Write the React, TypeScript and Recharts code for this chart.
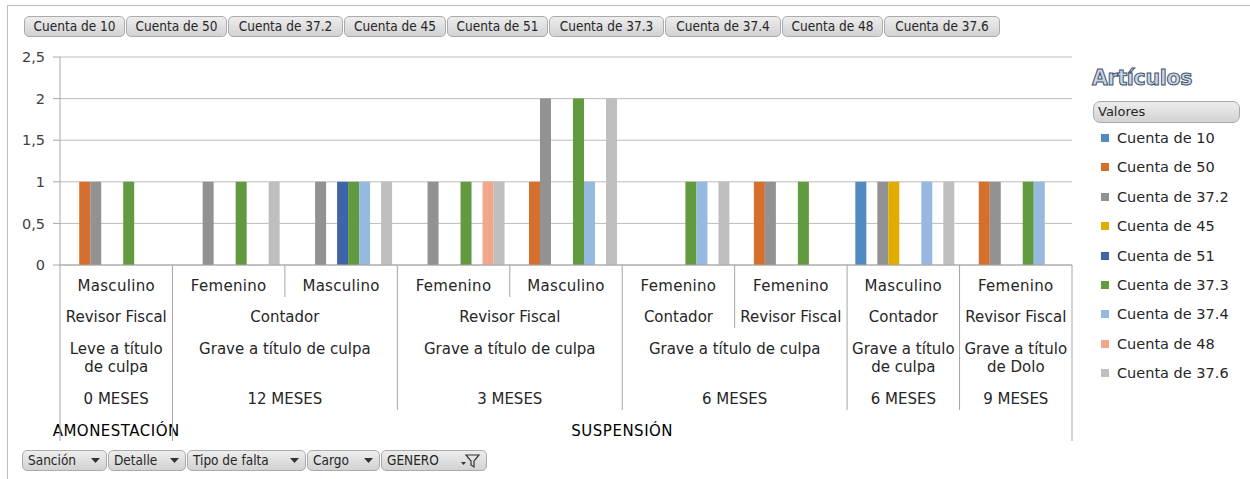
import React from "react";
import { BarChart, Bar, XAxis, YAxis, CartesianGrid } from "recharts";

// ---- Data ----
const seriesNames = [
  "Cuenta de 10",
  "Cuenta de 50",
  "Cuenta de 37.2",
  "Cuenta de 45",
  "Cuenta de 51",
  "Cuenta de 37.3",
  "Cuenta de 37.4",
  "Cuenta de 48",
  "Cuenta de 37.6",
];
const seriesColors = [
  "#4F8BC0",
  "#D4702C",
  "#929292",
  "#E2AC00",
  "#3E64AC",
  "#629A3F",
  "#97B9E0",
  "#F0A78A",
  "#BFBFBF",
];

const genero = [
  "Masculino",
  "Femenino",
  "Masculino",
  "Femenino",
  "Masculino",
  "Femenino",
  "Femenino",
  "Masculino",
  "Femenino",
];
const cargoGroups: [string, number][] = [
  ["Revisor Fiscal", 1],
  ["Contador", 2],
  ["Revisor Fiscal", 2],
  ["Contador", 1],
  ["Revisor Fiscal", 1],
  ["Contador", 1],
  ["Revisor Fiscal", 1],
];
const tipoGroups: [string, number][] = [
  ["Leve a título de culpa", 1],
  ["Grave a título de culpa", 2],
  ["Grave a título de culpa", 2],
  ["Grave a título de culpa", 2],
  ["Grave a título de culpa", 1],
  ["Grave a título de Dolo", 1],
];
const detalleGroups: [string, number][] = [
  ["0 MESES", 1],
  ["12 MESES", 2],
  ["3 MESES", 2],
  ["6 MESES", 2],
  ["6 MESES", 1],
  ["9 MESES", 1],
];
const sancionGroups: [string, number][] = [
  ["AMONESTACIÓN", 1],
  ["SUSPENSIÓN", 8],
];

const cuenta10 = [null, null, null, null, null, null, null, 1, null];
const cuenta50 = [1, null, null, null, 1, null, 1, null, 1];
const cuenta372 = [1, 1, 1, 1, 2, null, 1, 1, 1];
const cuenta45 = [null, null, null, null, null, null, null, 1, null];
const cuenta51 = [null, null, 1, null, null, null, null, null, null];
const cuenta373 = [1, 1, 1, 1, 2, 1, 1, null, 1];
const cuenta374 = [null, null, 1, null, 1, 1, null, 1, 1];
const cuenta48 = [null, null, null, 1, null, null, null, null, null];
const cuenta376 = [null, 1, 1, 1, 2, 1, null, 1, null];

const seriesValues = [
  cuenta10,
  cuenta50,
  cuenta372,
  cuenta45,
  cuenta51,
  cuenta373,
  cuenta374,
  cuenta48,
  cuenta376,
];

const yTicks = [0, 0.5, 1, 1.5, 2, 2.5];

const data = genero.map((g, i) => {
  const row: any = { cat: "c" + i };
  seriesValues.forEach((vals, s) => {
    row["s" + s] = vals[i];
  });
  return row;
});

// ---- Layout constants ----
const W = 1250;
const H = 479;
const MARGIN = { top: 57, right: 178, bottom: 34, left: 10 };
const Y_AXIS_W = 50;
const X_AXIS_H = 180;
const PLOT_W = W - MARGIN.left - Y_AXIS_W - MARGIN.right;
const FALLBACK_BAND = PLOT_W / genero.length;

const AXIS_FONT = "'DejaVu Sans', Verdana, sans-serif";
const BTN_FONT = "'DejaVu Sans Condensed', 'Liberation Sans Narrow', 'DejaVu Sans', sans-serif";
const LINE_COLOR = "#A6A6A6";
const TEXT_COLOR = "#262626";
const CAT_FONT_SIZE = 15;

function withStarts(groups: [string, number][]) {
  let idx = 0;
  return groups.map(([label, span]) => {
    const g = { label, span, start: idx };
    idx += span;
    return g;
  });
}

const levels = [
  { groups: withStarts(cargoGroups), textY: 57, bottom: 63, wrap: false, color: TEXT_COLOR, ls: 0 },
  { groups: withStarts(tipoGroups), textY: 89, bottom: 115, wrap: true, color: TEXT_COLOR, ls: 0 },
  { groups: withStarts(detalleGroups), textY: 139, bottom: 145, wrap: false, color: TEXT_COLOR, ls: 0 },
  { groups: withStarts(sancionGroups), textY: 171, bottom: 176, wrap: false, color: "#000", ls: 0.5 },
];

function wrapText(label: string, maxW: number): string[] {
  const charW = 7.6;
  const words = label.split(" ");
  const lines: string[] = [];
  let cur = "";
  words.forEach((w) => {
    const t = cur ? cur + " " + w : w;
    if (t.length * charW > maxW && cur) {
      lines.push(cur);
      cur = w;
    } else cur = t;
  });
  if (cur) lines.push(cur);
  return lines;
}

function CategoryTick(props: any) {
  const { x, y, payload } = props;
  const i: number = payload && typeof payload.index === "number" ? payload.index : props.index;
  const band = payload && payload.offset ? payload.offset * 2 : FALLBACK_BAND;
  const left = x - band / 2;
  const els: any[] = [];
  let lineBottom = 32;
  els.push(
    <text
      key="g"
      x={x}
      y={y + 26}
      textAnchor="middle"
      fontSize={CAT_FONT_SIZE}
      fontFamily={AXIS_FONT}
      fill={TEXT_COLOR}
      letterSpacing={0.3}
    >
      {genero[i]}
    </text>
  );
  levels.forEach((lv, li) => {
    const g = lv.groups.find((gg) => gg.start === i);
    if (!g) return;
    lineBottom = lv.bottom;
    const cx = left + (g.span * band) / 2;
    const lines = lv.wrap ? wrapText(g.label, g.span * band - 4) : [g.label];
    lines.forEach((ln, k) => {
      els.push(
        <text
          key={"l" + li + "-" + k}
          x={cx}
          y={y + lv.textY + k * 18}
          textAnchor="middle"
          fontSize={CAT_FONT_SIZE}
          fontFamily={AXIS_FONT}
          fill={lv.color}
          letterSpacing={lv.ls}
        >
          {ln}
        </text>
      );
    });
  });
  els.push(
    <line key="bl" x1={left} x2={left} y1={y} y2={y + lineBottom} stroke={LINE_COLOR} strokeWidth={1} />
  );
  if (i === genero.length - 1) {
    els.push(
      <line
        key="br"
        x1={left + band}
        x2={left + band}
        y1={y}
        y2={y + 176}
        stroke={LINE_COLOR}
        strokeWidth={1}
      />
    );
  }
  return <g>{els}</g>;
}

const btnStyle: React.CSSProperties = {
  position: "absolute",
  height: 21,
  boxSizing: "border-box",
  border: "1px solid #ABABAB",
  borderRadius: 5,
  background: "linear-gradient(#EDEDED, #D2D2D2)",
  fontFamily: BTN_FONT,
  fontSize: 13.5,
  color: TEXT_COLOR,
  lineHeight: "19px",
  textAlign: "center",
  whiteSpace: "nowrap",
  overflow: "hidden",
};

const topButtons: [number, number][] = [
  [24, 101],
  [126, 101],
  [228, 115],
  [344, 102],
  [447, 101],
  [549, 115],
  [665, 116],
  [782, 101],
  [884, 116],
];

const bottomFields = ["Sanción", "Detalle", "Tipo de falta", "Cargo", "GENERO"];
const bottomButtons: [number, number][] = [
  [22, 85],
  [108, 78],
  [187, 119],
  [307, 73],
  [381, 106],
];

const Arrow = () => (
  <svg width={9} height={6} style={{ position: "absolute", right: 6, top: 7 }}>
    <polygon points="0,0 9,0 4.5,5" fill="#333" />
  </svg>
);

const Funnel = () => (
  <svg width={20} height={16} style={{ position: "absolute", right: 6, top: 2 }}>
    <polygon points="6,2 19,2 14,8 14,14 11,12 11,8" fill="none" stroke="#333" strokeWidth={1.2} />
    <polygon points="1,9 6,9 3.5,12" fill="#333" />
  </svg>
);

export default function App() {
  return (
    <div
      style={{
        position: "absolute",
        left: 0,
        top: 0,
        width: W,
        height: H,
        overflow: "hidden",
        background: "#fff",
      }}
    >
      <div
        style={{
          position: "absolute",
          left: 7,
          top: 5,
          width: W,
          height: H,
          border: "1px solid #BFBFBF",
          boxSizing: "border-box",
        }}
      />
      <div style={{ position: "absolute", left: 0, top: 0 }}>
        <BarChart
          width={W}
          height={H}
          data={data}
          margin={MARGIN}
          barGap={0}
          barCategoryGap="7.3%"
        >
          <CartesianGrid horizontal={true} vertical={false} stroke="#BCBCBC" strokeWidth={1} />
          <XAxis
            dataKey="cat"
            type="category"
            height={X_AXIS_H}
            interval={0}
            tickSize={0}
            tickMargin={0}
            tickLine={false}
            axisLine={{ stroke: LINE_COLOR }}
            tick={<CategoryTick />}
          />
          <YAxis
            width={Y_AXIS_W}
            domain={[0, 2.5]}
            ticks={yTicks}
            interval={0}
            tickSize={7}
            tickMargin={8}
            tickLine={{ stroke: LINE_COLOR }}
            axisLine={{ stroke: LINE_COLOR }}
            tickFormatter={(v: number) => String(v).replace(".", ",")}
            tick={{ fontSize: 14.5, fontFamily: AXIS_FONT, fill: "#404040" }}
          />
          {seriesNames.map((name, s) => (
            <Bar
              key={name}
              dataKey={"s" + s}
              name={name}
              fill={seriesColors[s]}
              isAnimationActive={false}
            />
          ))}
        </BarChart>
      </div>

      {/* Top field buttons */}
      {seriesNames.map((name, s) => (
        <div
          key={name}
          style={{ ...btnStyle, left: topButtons[s][0], top: 16, width: topButtons[s][1] }}
        >
          {name}
        </div>
      ))}

      {/* Bottom field buttons */}
      {bottomFields.map((name, k) => (
        <div
          key={name}
          style={{
            ...btnStyle,
            left: bottomButtons[k][0],
            top: 450,
            width: bottomButtons[k][1],
            textAlign: "left",
            paddingLeft: 5,
          }}
        >
          {name}
          {k < bottomFields.length - 1 ? <Arrow /> : <Funnel />}
        </div>
      ))}

      {/* Legend */}
      <div
        style={{
          position: "absolute",
          left: 1092,
          top: 66,
          fontFamily: AXIS_FONT,
          fontWeight: "bold",
          fontSize: 20.5,
          color: "#C9D6EA",
          WebkitTextStroke: "1px #44546A",
          letterSpacing: -0.3,
        }}
      >
        Artículos
      </div>
      <div
        style={{
          ...btnStyle,
          left: 1093,
          top: 101,
          width: 147,
          height: 22,
          textAlign: "left",
          paddingLeft: 4,
          borderRadius: 7,
          fontFamily: AXIS_FONT,
          fontSize: 13,
          lineHeight: "20px",
        }}
      >
        Valores
      </div>
      {seriesNames.map((name, s) => (
        <div
          key={name}
          style={{
            position: "absolute",
            left: 1101,
            top: 129 + s * 29.4,
            height: 18,
            display: "flex",
            alignItems: "center",
            fontFamily: AXIS_FONT,
            fontSize: 14.5,
            color: TEXT_COLOR,
            whiteSpace: "nowrap",
          }}
        >
          <span
            style={{
              display: "inline-block",
              width: 8,
              height: 8,
              background: seriesColors[s],
              marginRight: 8,
            }}
          />
          {name}
        </div>
      ))}
    </div>
  );
}
